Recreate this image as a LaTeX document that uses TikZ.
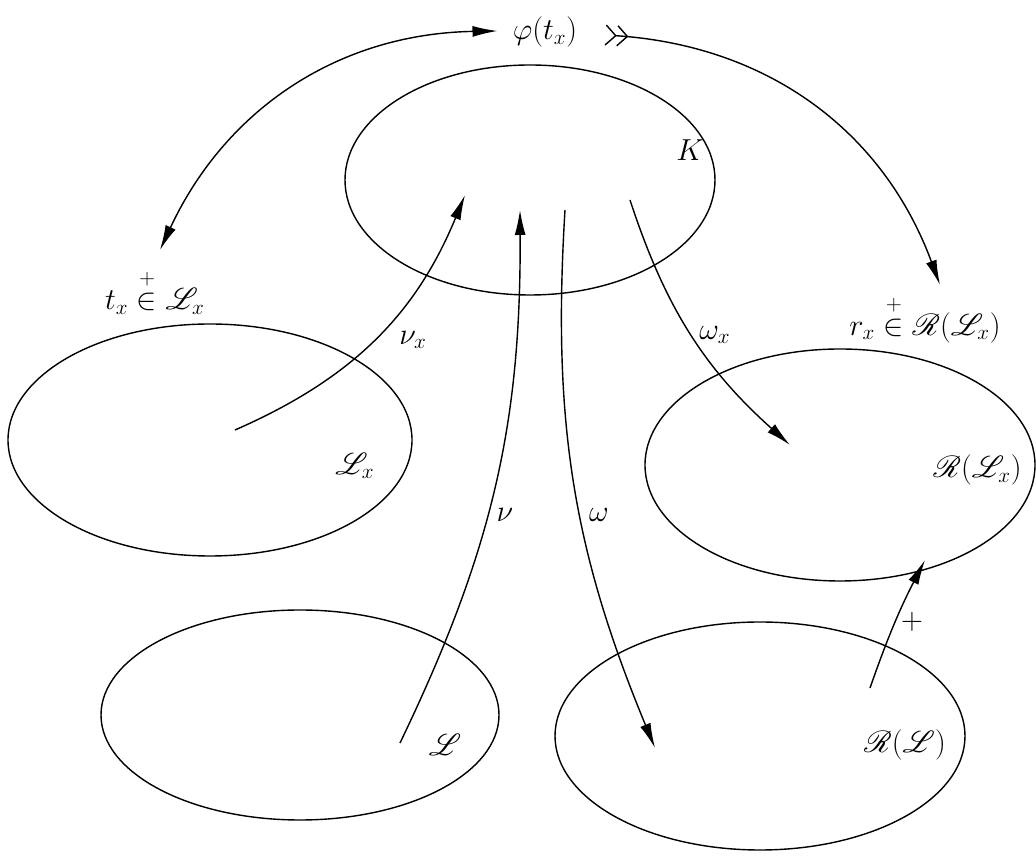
\documentclass[tikz,border=0pt]{standalone}
\usepackage{amsmath}
\usepackage{mathrsfs}
\usepackage{tikz}
\usetikzlibrary{arrows.meta,shapes.geometric}

\newcommand{\plusin}{\mathrel{\overset{\raisebox{1.5pt}{$\scriptstyle +$}}{\in}}}

\begin{document}
\begin{tikzpicture}[
    font=\fontsize{18}{22}\selectfont,
    set/.style={draw, ellipse, line width=0.8pt, inner sep=0pt},
    map/.style={-{Latex[length=5mm,width=2.2mm]}, line width=0.8pt},
    lbl/.style={inner sep=1pt}
  ]
    \useasboundingbox (0,0) rectangle (20.72,17.12);
    % the five sets
    \node[set, minimum width=7.4cm, minimum height=4.6cm] (K) at (10.6,13.52) {};
    \node[set, minimum width=8.08cm, minimum height=4.64cm] (Lx) at (4.2,8.32) {};
    \node[set, minimum width=7.8cm, minimum height=4.64cm] (RLx) at (16.8,7.82) {};
    \node[set, minimum width=7.96cm, minimum height=4.2cm] (L) at (6.0,2.82) {};
    \node[set, minimum width=8.2cm, minimum height=4.56cm] (RL) at (15.2,2.4) {};
    % set names
    \node[lbl] (Kname) at (13.8,14.12) {$K$};
    \node[lbl] (Lxname) at (7.1,7.8) {$\mathscr{L}_x$};
    \node[lbl] (RLxname) at (19.55,7.72) {$\mathscr{R}(\mathscr{L}_x)$};
    \node[lbl] (Lname) at (8.9,2.22) {$\mathscr{L}$};
    \node[lbl] (RLname) at (18.1,2.22) {$\mathscr{R}(\mathscr{L})$};
    % element labels
    \node[lbl] (phi) at (10.9,16.48) {$\varphi(t_x)$};
    \node[lbl] (tx) at (3.1,11.28) {$t_x \plusin \mathscr{L}_x$};
    \node[lbl] (rx) at (18.5,10.74) {$r_x \plusin \mathscr{R}(\mathscr{L}_x)$};
    % end points of the maps
    \coordinate (nuxs) at (4.7,8.52);
    \coordinate (nuxe) at (9.3,13.22);
    \coordinate (nus) at (8.0,2.26);
    \coordinate (nue) at (10.4,12.92);
    \coordinate (oms) at (11.3,12.92);
    \coordinate (ome) at (13.1,2.16);
    \coordinate (omxs) at (12.6,13.12);
    \coordinate (omxe) at (15.8,8.22);
    \coordinate (pls) at (17.4,3.36);
    \coordinate (ple) at (18.5,5.92);
    \coordinate (txa) at (3.2,12.12);
    \coordinate (phia) at (9.95,16.5);
    \coordinate (phib) at (12.1,16.42);
    \coordinate (rxa) at (18.8,11.42);
    % maps
    \draw[map] (nuxs) to[bend right=22] (nuxe);
    \draw[map] (nus) to[bend right=13] (nue);
    \draw[map] (oms) to[bend right=13] (ome);
    \draw[map] (omxs) to[bend right=15] (omxe);
    \draw[map] (pls) to[bend left=4] (ple);
    \draw[{Latex[length=5mm,width=2.2mm]}-{Latex[length=5mm,width=2.2mm]}, line width=0.8pt] (txa) to[bend left=32] (phia);
    \draw[map, {Straight Barb[reversed,length=2mm]Straight Barb[reversed,length=2mm]}-{Latex[length=5mm,width=2.2mm]}] (phib) to[bend left=33] (rxa);
    % map names
    \node[lbl] (nuxname) at (8.26,10.32) {$\nu_x$};
    \node[lbl] (nuname) at (10.1,6.82) {$\nu$};
    \node[lbl] (omname) at (11.98,6.82) {$\omega$};
    \node[lbl] (omxname) at (14.3,10.42) {$\omega_x$};
    \node[lbl] (plname) at (18.24,4.68) {$+$};
  \end{tikzpicture}
\end{document}
